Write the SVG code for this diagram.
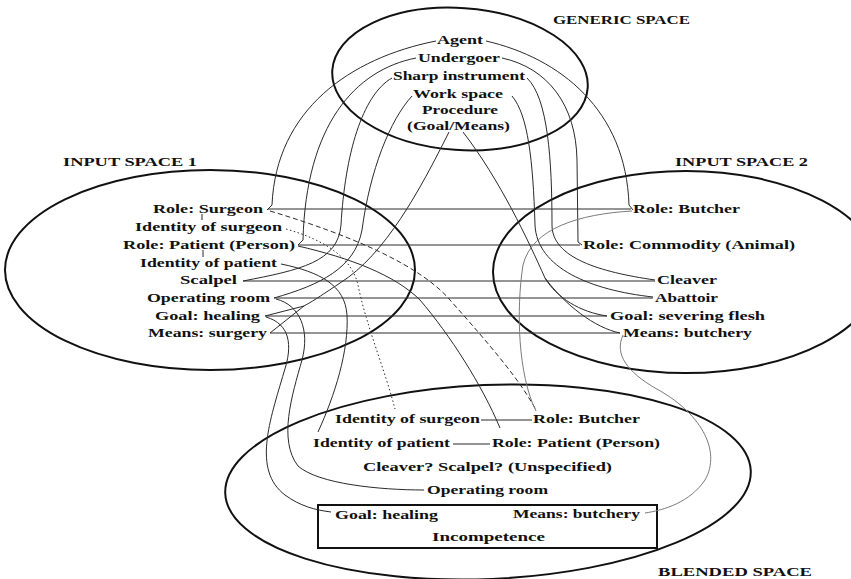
<svg xmlns="http://www.w3.org/2000/svg" width="851" height="579" viewBox="0 0 851 579">
<style>
text{font-family:"Liberation Serif","Times New Roman",serif;font-weight:bold;font-size:13px;fill:#111}
.cap{font-size:12px}
.sp{fill:none;stroke:#111;stroke-width:2}
.c{fill:none;stroke:#2a2a2a;stroke-width:1}
.lt{stroke:#7a7a7a}
.ds{stroke-dasharray:5 3}
.dt{stroke-dasharray:1.5 2.5}
</style>
<rect width="851" height="579" fill="#fff"/>
<g id="spaces">
<ellipse id="generic-space" class="sp" cx="460" cy="79" rx="128" ry="71" transform="rotate(4 460 79)"/>
<ellipse id="input-space-1" class="sp" cx="210" cy="270" rx="205" ry="100"/>
<ellipse id="input-space-2" class="sp" cx="686" cy="272" rx="193" ry="101"/>
<ellipse id="blended-space" class="sp" cx="488" cy="482" rx="263" ry="97" transform="rotate(-2.5 488 482)"/>
<rect id="incompetence-box" class="sp" x="318" y="505" width="339" height="43"/>
</g>
<g id="connectors">
<path class="c" d="M268 209H631M298 245H580M243 281H655M274 298H653M265 316H607M270 333H620"/>
<path class="c" d="M436 41C350 58 276 110 272 205L267 210"/>
<path class="c" d="M486 41C560 58 626 110 629 205L633 210"/>
<path class="c" d="M416 58C355 70 306 125 303 240L298 245"/>
<path class="c" d="M502 58C548 68 576 105 577 160L578 242L582 245"/>
<path class="c" d="M392 78C362 95 345 155 341 225C338 262 300 270 243 281"/>
<path class="c" d="M527 78C548 98 552 160 552 225C552 258 600 272 655 280"/>
<path class="c" d="M412 96C390 120 370 170 362 230C355 268 320 285 274 298"/>
<path class="c" d="M512 96C528 115 533 160 535 225C537 268 590 290 653 297"/>
<path class="c" d="M449 132C420 190 385 255 340 283C325 293 315 300 304 306L265 316M304 306L270 333"/>
<path class="c" d="M463 132C500 180 528 240 545 278C557 298 580 312 607 316M545 278C565 305 595 328 620 333"/>
<path class="c ds" d="M270 211C350 235 420 265 450 300C490 345 520 380 536 410"/>
<path class="c dt" d="M286 229C325 240 352 258 358 285C366 325 385 370 395 409"/>
<path class="c" d="M298 246C350 258 395 275 420 300C450 335 482 385 500 428"/>
<path class="c" d="M281 264C320 272 345 285 347 315C349 350 335 395 318 432"/>
<path class="c" d="M276 299C300 305 310 330 302 360C292 395 278 440 298 466C318 484 380 490 424 490"/>
<path class="c" d="M266 317C290 324 293 345 284 372C270 420 252 470 285 495C300 506 315 510 331 512"/>
<path class="c lt" d="M632 211C580 214 532 228 523 265C516 310 518 375 536 411"/>
<path class="c lt" d="M623 335C614 355 628 372 655 388C700 412 722 450 705 480C690 502 665 510 645 513"/>
<path class="c" d="M481 420H532M453 444H490"/>
<path class="c" d="M202 214V220M203 250V257"/>
</g>
<g id="labels-titles">
<text class="cap" x="553" y="24" textLength="137" lengthAdjust="spacingAndGlyphs">GENERIC SPACE</text>
<text class="cap" x="63" y="166" textLength="134" lengthAdjust="spacingAndGlyphs">INPUT SPACE 1</text>
<text class="cap" x="675" y="166" textLength="133" lengthAdjust="spacingAndGlyphs">INPUT SPACE 2</text>
<text class="cap" x="658" y="576" textLength="154" lengthAdjust="spacingAndGlyphs">BLENDED SPACE</text>
</g>
<g id="generic-nodes">
<g id="g-agent"><text x="437" y="44" textLength="46" lengthAdjust="spacingAndGlyphs">Agent</text></g>
<g id="g-undergoer"><text x="418" y="62" textLength="82" lengthAdjust="spacingAndGlyphs">Undergoer</text></g>
<g id="g-sharp"><text x="393" y="80" textLength="132" lengthAdjust="spacingAndGlyphs">Sharp instrument</text></g>
<g id="g-work"><text x="413" y="98" textLength="90" lengthAdjust="spacingAndGlyphs">Work space</text></g>
<g id="g-procedure"><text x="422" y="114" textLength="76" lengthAdjust="spacingAndGlyphs">Procedure</text><text x="407" y="130" textLength="103" lengthAdjust="spacingAndGlyphs">(Goal/Means)</text></g>
</g>
<g id="input1-nodes">
<g id="i1-role-surgeon"><text x="153" y="213" textLength="110" lengthAdjust="spacingAndGlyphs">Role: Surgeon</text></g>
<g id="i1-identity-surgeon"><text x="135" y="231" textLength="147" lengthAdjust="spacingAndGlyphs">Identity of surgeon</text></g>
<g id="i1-role-patient"><text x="123" y="249" textLength="172" lengthAdjust="spacingAndGlyphs">Role: Patient (Person)</text></g>
<g id="i1-identity-patient"><text x="140" y="267" textLength="137" lengthAdjust="spacingAndGlyphs">Identity of patient</text></g>
<g id="i1-scalpel"><text x="180" y="284" textLength="57" lengthAdjust="spacingAndGlyphs">Scalpel</text></g>
<g id="i1-operating-room"><text x="147" y="302" textLength="123" lengthAdjust="spacingAndGlyphs">Operating room</text></g>
<g id="i1-goal"><text x="155" y="320" textLength="105" lengthAdjust="spacingAndGlyphs">Goal: healing</text></g>
<g id="i1-means"><text x="148" y="337" textLength="119" lengthAdjust="spacingAndGlyphs">Means: surgery</text></g>
</g>
<g id="input2-nodes">
<g id="i2-role-butcher"><text x="633" y="213" textLength="107" lengthAdjust="spacingAndGlyphs">Role: Butcher</text></g>
<g id="i2-role-commodity"><text x="583" y="249" textLength="212" lengthAdjust="spacingAndGlyphs">Role: Commodity (Animal)</text></g>
<g id="i2-cleaver"><text x="657" y="284" textLength="60" lengthAdjust="spacingAndGlyphs">Cleaver</text></g>
<g id="i2-abattoir"><text x="655" y="302" textLength="63" lengthAdjust="spacingAndGlyphs">Abattoir</text></g>
<g id="i2-goal"><text x="610" y="320" textLength="155" lengthAdjust="spacingAndGlyphs">Goal: severing flesh</text></g>
<g id="i2-means"><text x="623" y="337" textLength="129" lengthAdjust="spacingAndGlyphs">Means: butchery</text></g>
</g>
<g id="blend-nodes">
<g id="b-identity-surgeon"><text x="335" y="423" textLength="145" lengthAdjust="spacingAndGlyphs">Identity of surgeon</text></g>
<g id="b-role-butcher"><text x="533" y="423" textLength="107" lengthAdjust="spacingAndGlyphs">Role: Butcher</text></g>
<g id="b-identity-patient"><text x="313" y="447" textLength="137" lengthAdjust="spacingAndGlyphs">Identity of patient</text></g>
<g id="b-role-patient"><text x="492" y="447" textLength="168" lengthAdjust="spacingAndGlyphs">Role: Patient (Person)</text></g>
<g id="b-instrument"><text x="363" y="471" textLength="249" lengthAdjust="spacingAndGlyphs">Cleaver? Scalpel? (Unspecified)</text></g>
<g id="b-operating-room"><text x="427" y="494" textLength="121" lengthAdjust="spacingAndGlyphs">Operating room</text></g>
<g id="b-goal"><text x="335" y="519" textLength="103" lengthAdjust="spacingAndGlyphs">Goal: healing</text></g>
<g id="b-means"><text x="513" y="518" textLength="127" lengthAdjust="spacingAndGlyphs">Means: butchery</text></g>
<g id="b-incompetence"><text x="432" y="541" textLength="113" lengthAdjust="spacingAndGlyphs">Incompetence</text></g>
</g>
</svg>
